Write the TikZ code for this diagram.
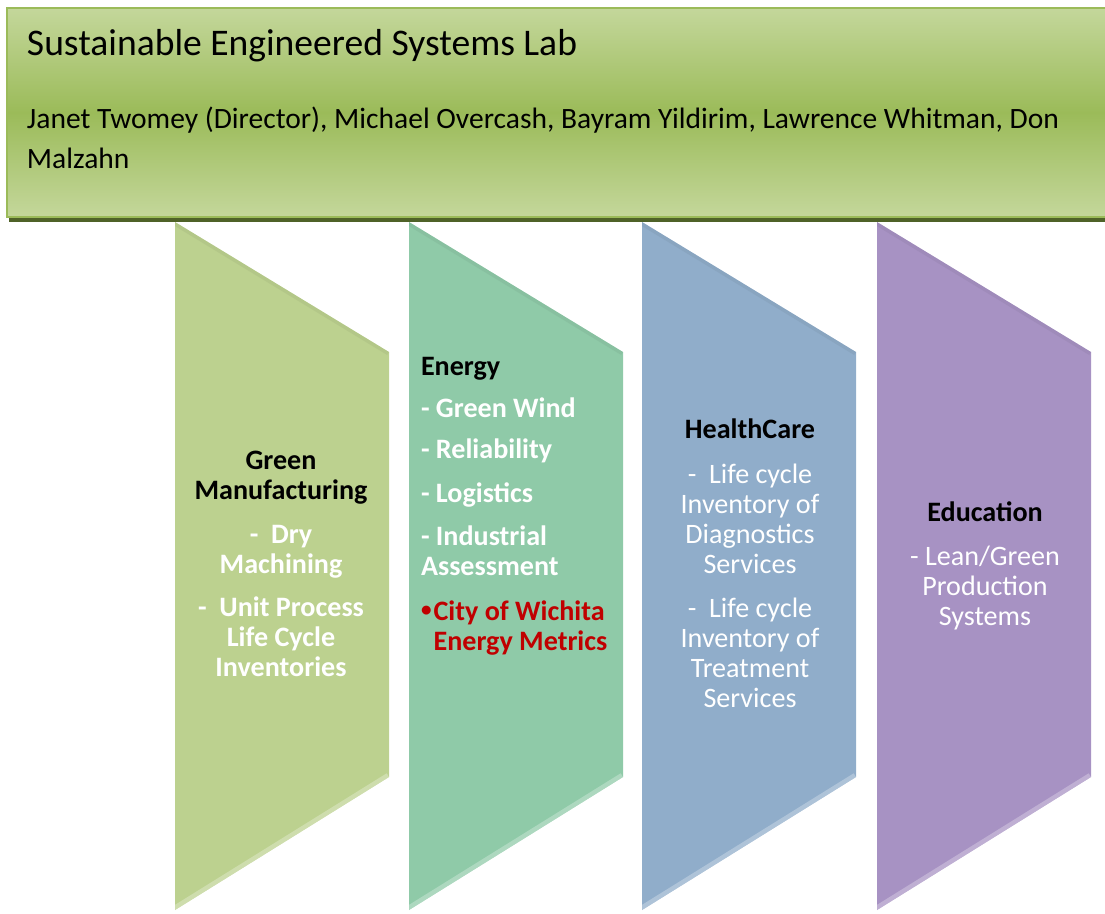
\documentclass[tikz,border=0pt]{standalone}
\usepackage{fontspec}
\setmainfont{Carlito}
\definecolor{bannerlight}{HTML}{C4D79B}
\definecolor{bannermid}{HTML}{9BBB59}
\definecolor{bannershadow}{HTML}{4F6228}
\definecolor{mfggreen}{HTML}{BCD18F}
\definecolor{energymint}{HTML}{8FCAA8}
\definecolor{careblue}{HTML}{90ADCA}
\definecolor{edupurple}{HTML}{A792C3}
\definecolor{metricred}{HTML}{C00000}
\pgfdeclarehorizontalshading[bevelL,bevelM,bevelR,bevelE]{bevel}{100bp}{color(0bp)=(bevelL); color(8bp)=(bevelM); color(86bp)=(bevelM); color(96bp)=(bevelR); color(98bp)=(bevelR); color(100bp)=(bevelE)}
\newcommand{\smallbul}{\raisebox{1.8pt}{\fontsize{12}{17}\selectfont •}\kern1.2pt}
\begin{document}
\begin{tikzpicture}[x=0.02cm,y=-0.02cm,inner sep=0pt,outer sep=0pt,
heading/.style={font=\fontsize{16}{17}\selectfont\bfseries,text=black,align=center,anchor=base},
item/.style={font=\fontsize{16}{17}\selectfont,text=white,align=center,anchor=base},
column/.style={shading=bevel}]
\useasboundingbox (0,0) rectangle (1105,913);
% banner
\fill[bannershadow] (9,212) rectangle (1110,222);
\draw[bannermid,line width=1.2pt,top color=bannerlight,bottom color=bannerlight,middle color=bannermid] (7,8) rectangle (1110,217);
\node[anchor=base west,font=\fontsize{21.4}{24}\selectfont] (title) at (27,55) {Sustainable Engineered Systems Lab};
% base anchor of a multi-line node sits on its last line
\node[anchor=base west,align=left,font=\fontsize{16.8}{22.7}\selectfont] (staff) at (27,168) {Janet Twomey (Director), Michael Overcash, Bayram Yildirim, Lawrence Whitman, Don\\Malzahn};
% columns
\foreach \x/\c in {175/mfggreen,409/energymint,642/careblue,877/edupurple}{
  \colorlet{bevelM}{\c}\colorlet{bevelL}{\c!82!black}\colorlet{bevelR}{\c!70!white}\colorlet{bevelE}{\c!60!gray}
  \path[column] (\x,222) -- (\x+214,352) -- (\x+214,777) -- (\x,910) -- cycle;
  \begin{scope}
    \clip (\x,222) -- (\x+214,352) -- (\x+214,777) -- (\x,910) -- cycle;
    \draw[line width=5pt,\c!55!white,opacity=0.6] (\x+214,777) -- (\x,910);
    \draw[line width=4pt,\c!85!black,opacity=0.3] (\x,222) -- (\x+214,352);
  \end{scope}
}
% green manufacturing
\node[heading] (mfg) at (281,499) {Green\\Manufacturing};
\node[item,font=\fontsize{16}{17}\selectfont\bfseries] (mfg-dry) at (281,573) {-\ \ Dry\\Machining};
\node[item,font=\fontsize{16}{17}\selectfont\bfseries] (mfg-unit) at (281,676) {-\ \ Unit Process\\Life Cycle\\Inventories};
% energy
\begin{scope}[every node/.append style={anchor=base west,align=left,font=\fontsize{16}{17}\selectfont\bfseries}]
\node[text=black] (energy) at (421,375) {Energy};
\node[text=white] (energy-wind) at (421,417) {- Green Wind};
\node[text=white] (energy-rel) at (421,458) {- Reliability};
\node[text=white] (energy-log) at (421,502) {- Logistics};
\node[text=white] (energy-ind) at (421,575) {- Industrial\\Assessment};
\node[text=metricred] (energy-city) at (421,650) {\smallbul City of Wichita\\\phantom{\smallbul}Energy Metrics};
\end{scope}
% healthcare
\node[heading] (care) at (750,438) {HealthCare};
\node[item] (care-diag) at (750,573) {-\ \ Life cycle\\Inventory of\\Diagnostics\\Services};
\node[item] (care-treat) at (750,707) {-\ \ Life cycle\\Inventory of\\Treatment\\Services};
% education
\node[heading] (edu) at (985,521) {Education};
\node[item] (edu-lean) at (985,625) {- Lean/Green\\Production\\Systems};
\end{tikzpicture}
\end{document}
